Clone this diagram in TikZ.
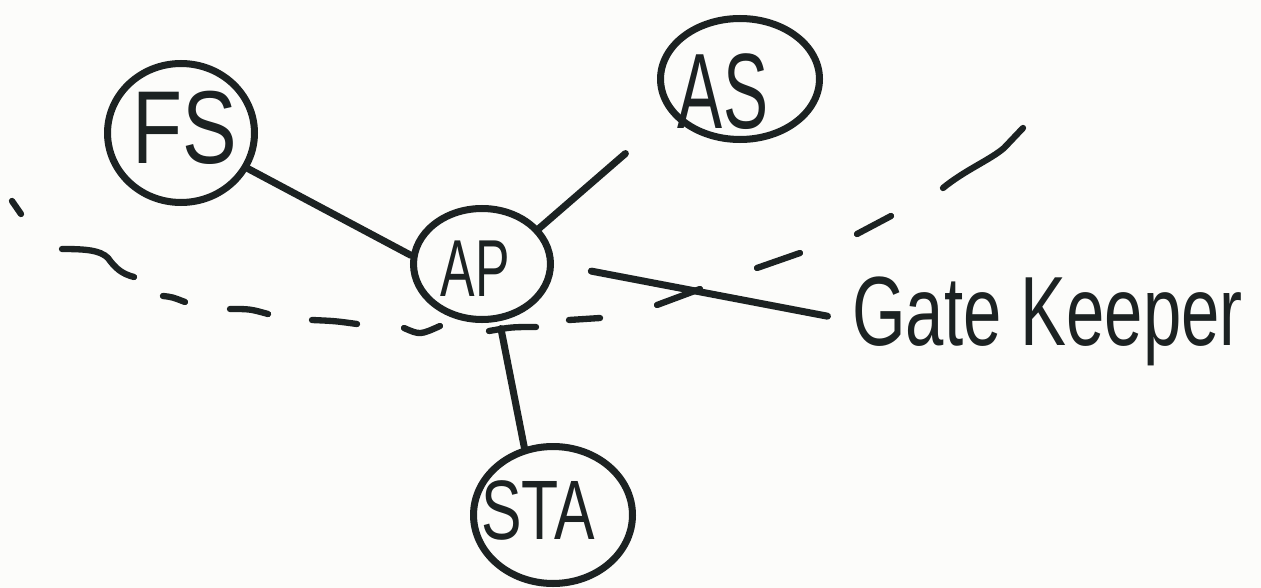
\documentclass[tikz,border=0pt]{standalone}
\usepackage{fontspec}
\usepackage{graphicx}
\setmainfont{Liberation Sans}
\usetikzlibrary{shapes.geometric}
\definecolor{ink}{HTML}{1C2222}
\definecolor{paper}{HTML}{FCFCFA}
\tikzset{
  pen/.style={draw=ink, line width=4pt, line cap=round, line join=round},
  blob/.style={ellipse, draw=ink, line width=4pt, inner sep=0pt},
  lbl/.style={inner sep=0pt, text=ink},
  dashstroke/.style={draw=ink, line width=3.6pt, line cap=round}
}
\begin{document}
\begin{tikzpicture}[x=0.02cm, y=-0.02cm]
\fill[paper] (0,0) rectangle (1261,588);
\useasboundingbox (0,0) rectangle (1261,588);

% nodes (circles)
\node[blob, minimum width=2.94cm, minimum height=2.78cm] (fs) at (181,133) {};
\node[blob, minimum width=3.18cm, minimum height=2.42cm] (as) at (740,79) {};
\node[blob, minimum width=2.74cm, minimum height=2.22cm] (ap) at (482,264) {};
\node[blob, minimum width=3.18cm, minimum height=2.74cm] (sta) at (553,515) {};

% labels
\node[lbl] (fst) at (185,128) {\fontsize{59}{60}\selectfont\scalebox{0.79}[1]{FS}};
\node[lbl] (ast) at (723,92) {\fontsize{61}{62}\selectfont\scalebox{0.63}[1]{AS}};
\node[lbl] (apt) at (475,269) {\fontsize{46}{48}\selectfont\scalebox{0.64}[1]{AP}};
\node[lbl] (stat) at (538,510) {\fontsize{48}{50}\selectfont\scalebox{0.72}[1]{STA}};
\node[lbl, anchor=base west] (gk) at (852,345) {\fontsize{56}{58}\selectfont\scalebox{0.7}[1]{Gate Keeper}};

% dashed boundary (hand-drawn strokes)
\draw[dashstroke] (12,201) -- (21,214);
\draw[dashstroke] (62,249) .. controls (85,249) and (100,250) .. (108,258) .. controls (115,268) and (122,274) .. (134,277);
\draw[dashstroke] (163,296) .. controls (172,297) .. (185,302);
\draw[dashstroke] (230,309) .. controls (250,309) .. (268,314);
\draw[dashstroke] (312,320) .. controls (335,321) .. (357,324);
\draw[dashstroke] (404,328) .. controls (420,335) .. (440,326);
\draw[dashstroke] (489,331) .. controls (512,327) .. (536,327);
\draw[dashstroke] (569,320) -- (600,318);
\draw[dashstroke] (657,305) -- (700,289);
\draw[dashstroke] (757,268) -- (800,253);
\draw[dashstroke] (857,234) -- (891,216);
\draw[dashstroke] (943,188) .. controls (965,170) and (990,160) .. (1004,148) -- (1023,128);

% connectors
\draw[pen] (fs.332) -- (ap.173);
\draw[pen, shorten <=1.2cm] (as.207) -- (ap.32);
\draw[pen, shorten <=0.76cm, shorten >=0.5cm] (ap.0) -- (gk.west);
\draw[pen, shorten <=0.15cm] (ap.287) -- (sta.113);
\end{tikzpicture}
\end{document}
